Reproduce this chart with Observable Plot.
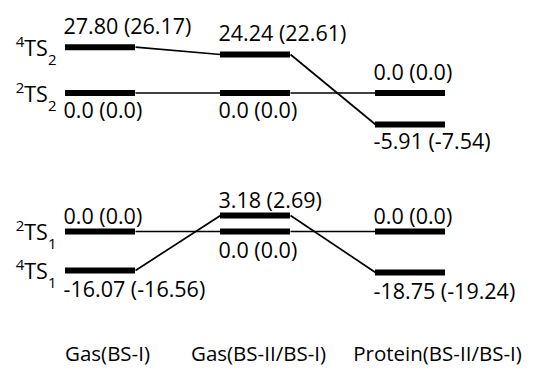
<!DOCTYPE html>
<html><head><meta charset="utf-8">
<script src="https://cdn.jsdelivr.net/npm/d3@7"></script>
<script src="https://cdn.jsdelivr.net/npm/@observablehq/plot@0.6"></script>
<style>
body{margin:0;background:#fff;}
#chart svg{display:block;}
</style>
</head><body><div id="chart"></div>
<script>
// Columns (methods)
const categories = ["Gas(BS-I)", "Gas(BS-II/BS-I)", "Protein(BS-II/BS-I)"];
// State labels
const ts2StateNames = ["⁴TS₂", "²TS₂"];
const ts1StateNames = ["²TS₁", "⁴TS₁"];
// Relative energies (value and value in parentheses)
const ts2Quartet = [27.80, 24.24, -5.91];
const ts2QuartetParen = [26.17, 22.61, -7.54];
const ts2Doublet = [0.0, 0.0, 0.0];
const ts2DoubletParen = [0.0, 0.0, 0.0];
const ts1Doublet = [0.0, 0.0, 0.0];
const ts1DoubletParen = [0.0, 0.0, 0.0];
const ts1Quartet = [-16.07, 3.18, -18.75];
const ts1QuartetParen = [-16.56, 2.69, -19.24];

// Layout / style constants
const FONT = "'Open Sans', sans-serif";
const FS = 21.5;
const hw = 35 / 155; // half bar width in column units
const categoryLabelDx = [7, 3, 27];

const fmt = v => v === 0 ? "0.0" : v.toFixed(2);
function series(state, values, paren) {
  return values.map((v, i) => ({state, col: i, value: v, label: `${fmt(v)} (${fmt(paren[i])})`}));
}

const SUP = {"⁴": "4", "²": "2"};
const SUB = {"₁": "1", "₂": "2"};
function styleStateLabels(svg, names) {
  svg.querySelectorAll("text").forEach(t => {
    const s = t.textContent;
    if (!names.includes(s)) return;
    const chars = [...s];
    const sup = SUP[chars[0]], sub = SUB[chars[chars.length - 1]], base = chars.slice(1, -1).join("");
    t.textContent = "";
    const ns = "http://www.w3.org/2000/svg";
    const a = document.createElementNS(ns, "tspan");
    a.setAttribute("font-size", 15); a.setAttribute("dy", -9); a.textContent = sup;
    const b = document.createElementNS(ns, "tspan");
    b.setAttribute("font-size", FS); b.setAttribute("dy", 9); b.textContent = base;
    const c = document.createElementNS(ns, "tspan");
    c.setAttribute("font-size", 15); c.setAttribute("dy", 9); c.textContent = sub;
    t.append(a, b, c);
  });
}

function panel(sA, sB, names, yRange, height, aboveDy, belowDy, withCats) {
  const levels = [...sA, ...sB];
  levels.forEach(d => {
    const other = levels.find(o => o.col === d.col && o !== d);
    d.above = d.value > other.value;
  });
  const links = [];
  for (const s of [sA, sB]) {
    for (let i = 0; i < s.length - 1; i++) {
      links.push({x1: s[i].col + hw, y1: s[i].value, x2: s[i + 1].col - hw, y2: s[i + 1].value});
    }
  }
  const stateLabels = [{name: names[0], value: sA[0].value}, {name: names[1], value: sB[0].value}];
  const yDomain = d3.sort(new Set(levels.map(d => d.value)));
  const marks = [
    Plot.link(links, {x1: "x1", y1: "y1", x2: "x2", y2: "y2", stroke: "black", strokeWidth: 1.7}),
    Plot.ruleY(levels, {y: "value", x1: d => d.col - hw, x2: d => d.col + hw, stroke: "black", strokeWidth: 6}),
    Plot.text(levels.filter(d => d.above), {x: d => d.col - hw, y: "value", text: "label", textAnchor: "start", dx: -2, dy: aboveDy, fontSize: FS, fill: "black"}),
    Plot.text(levels.filter(d => !d.above), {x: d => d.col - hw, y: "value", text: "label", textAnchor: "start", dx: -2, dy: belowDy, fontSize: FS, fill: "black"}),
    Plot.text(stateLabels, {x: -hw, y: "value", text: "name", textAnchor: "end", dx: -9, dy: 2, fontSize: FS, fill: "black"})
  ];
  if (withCats) {
    marks.push(Plot.text(categories, {x: (d, i) => i, text: d => d, frameAnchor: "bottom", dy: -9, fontSize: 20.5, fill: "black"}));
  }
  const svg = Plot.plot({
    width: 536, height,
    marginTop: 0, marginRight: 0, marginBottom: 0, marginLeft: 0,
    style: {fontFamily: FONT, background: "white", color: "black"},
    x: {type: "linear", domain: [0, 2], range: [100, 410], axis: null},
    y: {type: "linear", domain: yDomain, range: yRange, axis: null},
    marks
  });
  styleStateLabels(svg, names);
  if (withCats) {
    svg.querySelectorAll("text").forEach(t => {
      const k = categories.indexOf(t.textContent);
      if (k >= 0) t.setAttribute("dx", categoryLabelDx[k]);
    });
  }
  return svg;
}

const topPanel = panel(series("q2", ts2Quartet, ts2QuartetParen), series("d2", ts2Doublet, ts2DoubletParen),
  ts2StateNames, [124, 92.5, 54, 46.7], 160, -20, 18, false);
const bottomPanel = panel(series("d1", ts1Doublet, ts1DoubletParen), series("q1", ts1Quartet, ts1QuartetParen),
  ts1StateNames, [112, 110, 71, 55], 209, -14.5, 20, true);
document.getElementById("chart").append(topPanel, bottomPanel);
</script>
</body></html>
